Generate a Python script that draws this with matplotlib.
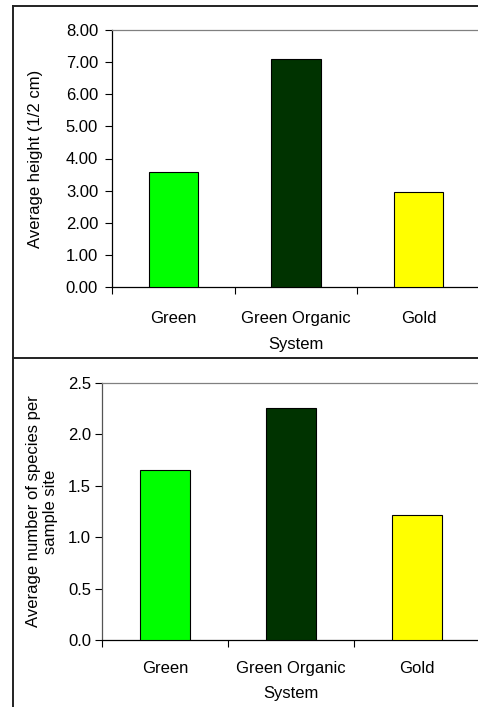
import matplotlib.pyplot as plt
from matplotlib.lines import Line2D
from matplotlib.ticker import FormatStrFormatter

plt.rcParams['font.family'] = ['Liberation Sans', 'DejaVu Sans']
plt.rcParams['font.size'] = 12

# data
systems = ['Green', 'Green Organic', 'Gold']
colors = ['#00ff00', '#003300', '#ffff00']
height = [3.59, 7.09, 2.97]
species = [1.655, 2.26, 1.22]

W, H = 478, 707
fig = plt.figure(figsize=(W / 100, H / 100), dpi=100)


def px_axes(left, right, top, bottom):
    return fig.add_axes([left / W, 1 - bottom / H, (right - left) / W, (bottom - top) / H])


def style(ax, values, ymax, ystep, fmt, ypad, xpad, lpad):
    pos = [i + 0.5 for i in range(len(values))]
    ax.bar(pos, values, width=0.4, color=colors, edgecolor='black', linewidth=0.8, zorder=3)
    ax.set_xlim(0, 3)
    ax.set_ylim(0, ymax)
    ax.set_yticks([i * ystep for i in range(int(round(ymax / ystep)) + 1)])
    ax.yaxis.set_major_formatter(FormatStrFormatter(fmt))
    ax.set_xticks(pos, systems)
    ax.set_xticks([0, 1, 2, 3], minor=True)
    ax.tick_params(axis='x', which='major', length=0, pad=xpad)
    ax.tick_params(axis='x', which='minor', length=5, width=0.8, direction='out')
    ax.tick_params(axis='y', length=5, width=0.8, direction='out', pad=ypad)
    ax.set_xlabel('System', labelpad=lpad)
    for s in ['top', 'right']:
        ax.spines[s].set_color('#808080')
        ax.spines[s].set_linewidth(0.9)
    ax.spines['left'].set_linewidth(0.9)
    ax.spines['bottom'].set_linewidth(0.9)


ax1 = px_axes(112, 480, 30, 287)
style(ax1, height, 8, 1, '%.2f', 5, 17.5, 7.5)
ax1.set_ylabel('Average height (1/2 cm)', ha='center', va='center')
ax1.yaxis.set_label_coords(-0.209, 0.5)

ax2 = px_axes(102, 480, 383, 640)
style(ax2, species, 2.5, 0.5, '%.1f', 3, 15, 7)
ax2.spines['left'].set_color('#555555')
ax2.set_ylabel('Average number of species per\nsample site', ha='center', va='center')
ax2.yaxis.set_label_coords(-0.159, 0.5)

# outer frame lines
def fline(x0, y0, x1, y1):
    fig.add_artist(Line2D([x0 / W, x1 / W], [1 - y0 / H, 1 - y1 / H],
                          transform=fig.transFigure, color='#222222', linewidth=1.4))

fline(13, 6, W, 6)
fline(13, 6, 13, H)
fline(13, 358, W, 358)

fig.savefig('out.png', dpi=100)
